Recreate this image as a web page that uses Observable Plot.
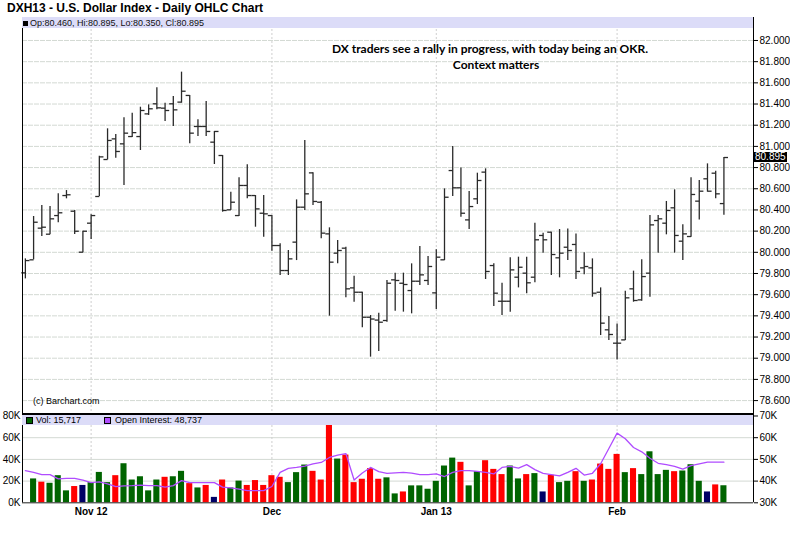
<!DOCTYPE html>
<html><head><meta charset="utf-8">
<script src="https://cdn.jsdelivr.net/npm/d3@7"></script>
<script src="https://cdn.jsdelivr.net/npm/@observablehq/plot@0.6"></script>
<style>
body{margin:0;background:#fff;font-family:"Liberation Sans",Arial,sans-serif;}
#wrap{position:relative;width:790px;height:537px;overflow:hidden;background:#fff;}
.abs{position:absolute;white-space:nowrap;}
#wrap svg{position:absolute;left:0;}
</style></head><body><div id="wrap"></div>
<script>
// ---- data ----
const titleText = "DXH13 - U.S. Dollar Index - Daily OHLC Chart";
const noteLine1 = "DX traders see a rally in progress, with today being an OKR.";
const noteLine2 = "Context matters";
const creditText = "(c) Barchart.com";

const opens = [79.806,79.929,80.228,80.171,80.347,80.536,80.388,80.001,80.275,80.527,80.876,81.071,81.024,81.093,81.093,81.307,81.402,81.361,81.402,81.418,81.481,81.188,81.188,81.040,80.914,80.401,80.347,80.631,80.536,80.369,80.347,80.064,79.828,80.096,80.426,80.750,80.473,80.174,79.992,80.039,79.664,79.623,79.387,79.360,79.356,79.740,79.708,79.639,79.727,79.734,79.617,79.929,80.772,80.609,80.306,80.505,80.757,79.875,79.538,79.538,79.765,79.803,79.765,80.159,80.190,79.948,80.048,80.074,79.853,79.853,79.623,79.268,79.142,79.173,79.655,79.551,79.803,80.300,80.275,80.420,80.105,80.149,80.483,80.694,80.747,80.460];
const highs = [79.938,80.338,80.442,80.432,80.552,80.583,80.395,80.199,80.354,80.908,81.166,81.112,81.270,81.314,81.370,81.392,81.553,81.408,81.471,81.701,81.481,81.251,81.424,81.141,80.914,80.568,80.703,80.826,80.536,80.536,80.347,80.080,80.017,80.495,81.056,80.750,80.480,80.231,80.111,80.048,79.774,79.623,79.403,79.425,79.734,79.803,79.803,79.891,80.055,79.960,80.023,80.599,80.999,80.797,80.574,80.747,80.788,79.891,79.708,79.948,79.954,79.954,80.275,80.181,80.190,80.215,80.221,80.174,79.995,79.938,79.664,79.394,79.324,79.633,79.822,79.929,80.347,80.347,80.480,80.590,80.259,80.703,80.678,80.835,80.766,80.895];
const lows = [79.749,79.929,80.149,80.165,80.278,80.505,80.168,79.995,80.121,80.527,80.873,80.889,80.631,81.084,80.961,81.292,81.345,81.235,81.188,81.408,81.024,81.093,81.093,80.829,80.379,80.395,80.338,80.505,80.237,80.143,80.011,79.781,79.781,79.922,80.395,80.442,80.127,79.397,79.891,79.570,79.529,79.287,79.010,79.063,79.340,79.444,79.435,79.419,79.686,79.686,79.460,79.922,80.527,80.332,80.215,80.451,79.743,79.488,79.403,79.435,79.664,79.608,79.712,79.992,79.781,79.759,79.922,79.743,79.787,79.576,79.214,79.167,78.984,79.167,79.529,79.538,79.576,79.992,80.165,79.992,79.922,80.143,80.306,80.568,80.505,80.350];
const closes = [79.922,80.284,80.237,80.316,80.373,80.543,80.199,80.199,80.347,80.901,81.056,80.952,81.125,81.130,81.339,81.355,81.364,81.339,81.345,81.521,81.125,81.188,81.141,81.141,80.395,80.473,80.631,80.536,80.410,80.363,80.064,79.828,79.938,80.426,80.552,80.480,80.181,79.907,80.017,79.655,79.623,79.387,79.370,79.340,79.708,79.734,79.696,79.727,79.787,79.866,79.954,80.520,80.609,80.369,80.432,80.678,79.819,79.614,79.538,79.834,79.859,79.712,80.118,80.118,79.979,79.992,80.017,79.819,79.866,79.614,79.331,79.224,79.142,79.570,79.545,79.771,80.259,80.316,80.395,80.159,80.174,80.546,80.577,80.577,80.552,80.895];
// volume in thousands (first bar has no volume bar)
const volumes = [null,22,19,18,25,11,15,16,18.6,28,18.6,25,36,21,24,11,21,23.5,24,29,17.7,13.7,16,5,21,13.7,20,16,20.5,16,25,23.5,18.6,27.8,34.8,29,21,71.5,40.3,44,18.6,21.7,31.5,21.7,23,8.2,10,15.6,15.6,12.5,19.8,33.9,41.2,37.3,15.6,28.7,38.8,30.8,26,33.9,22,26,26.9,10,25.3,18.6,19.8,28.7,19.8,21,35.7,30.8,44.6,27.8,31.5,26,47,26,29.9,28.7,29.3,35.1,19.8,10,16.5,15.717];
const volDirection = [null,"up","down","up","up","up","down","unch","up","up","up","down","up","up","up","up","up","down","up","up","down","up","down","unch","down","up","up","down","down","down","down","down","up","up","up","down","down","down","up","down","down","down","down","down","up","up","down","up","up","up","up","up","up","down","up","up","down","down","down","up","up","down","up","unch","down","up","up","down","up","down","down","down","down","up","down","up","up","up","up","down","up","up","up","unch","down","up"];
// open interest in thousands
const openInterest = [44.8,44.0,43.0,43.0,41.0,41.3,41.3,40.5,39.3,39.6,38.7,37.5,37.8,37.9,38.1,37.9,37.9,37.2,37.9,40.2,39.3,39.3,39.3,39.3,37.2,36.9,36.3,35.6,35.6,35.6,37.5,44.0,45.9,46.3,46.9,47.9,48.6,50.9,52.0,52.7,40.5,43.7,46.3,44.4,43.6,43.8,44.0,43.7,43.0,43.0,43.3,42.1,44.0,44.8,44.8,44.5,44.0,43.3,46.3,46.8,46.0,47.6,45.3,43.6,43.0,42.4,44.0,45.9,42.8,43.6,48.0,55.0,62.1,59.5,55.5,53.5,50.5,48.2,47.6,46.8,45.5,47.1,47.9,48.7,48.7,48.737];
const monthTicks = [8, 30, 50, 72];
const monthLabels = ["Nov 12", "Dec", "Jan 13", "Feb"];
const priceTicks = [78.6,78.8,79.0,79.2,79.4,79.6,79.8,80.0,80.2,80.4,80.6,80.8,81.0,81.2,81.4,81.6,81.8,82.0];
const volTicks = [0,20,40,60,80];
const oiTicks = [30,40,50,60,70];

// ---- build ----
const wrap = document.getElementById("wrap");
const font = '"Liberation Sans", Arial, sans-serif';
const xDomain = [-0.35, 88.6];
const W = 790, ML = 22, MR = 37;
const bars = opens.map((o, i) => ({i, o, h: highs[i], l: lows[i], c: closes[i]}));
const volData = volumes.map((v, i) => ({i, v, dir: volDirection[i]})).filter(d => d.v != null);
const oiData = openInterest.map((v, i) => ({i, v}));
const dirColor = {up: "#006400", down: "#ff0000", unch: "#000066"};
const gridColor = "#d3d9d3";
const f3 = d3.format(".3f");

function addDiv(style, text) {
  const d = document.createElement("div");
  d.className = "abs";
  Object.assign(d.style, style);
  if (text != null) d.textContent = text;
  wrap.appendChild(d);
  return d;
}

// title
addDiv({left: "7px", top: "2px", font: "bold 12px " + font, lineHeight: "12px", color: "#000"}, titleText);

// main price panel
const MAIN_TOP = 17, MAIN_H = 396;
const main = Plot.plot({
  width: W, height: MAIN_H,
  marginLeft: ML, marginRight: MR, marginTop: 0, marginBottom: 0,
  x: {domain: xDomain, axis: null},
  y: {domain: [78.478, 82.217], axis: null},
  style: {background: "transparent", overflow: "visible", fontFamily: font, fontSize: "10px", color: "#000"},
  marks: [
    Plot.ruleY(priceTicks, {stroke: gridColor, strokeDasharray: "5,1"}),
    Plot.ruleX(monthTicks, {stroke: "#cfcfcf", strokeDasharray: "2,2"}),
    Plot.ruleX(bars, {x: "i", y1: "l", y2: "h", stroke: "#2a2a2a", strokeWidth: 1.3}),
    Plot.link(bars, {x1: d => d.i - 0.5, x2: "i", y1: "o", y2: "o", stroke: "#2a2a2a", strokeWidth: 1.3}),
    Plot.link(bars, {x1: "i", x2: d => d.i + 0.5, y1: "c", y2: "c", stroke: "#2a2a2a", strokeWidth: 1.3}),
    Plot.axisY({anchor: "right", label: null, ticks: priceTicks, tickFormat: f3, tickSize: 4, tickPadding: 2, fontSize: 10}),
    Plot.ruleX([xDomain[0], xDomain[1]], {stroke: "#000"})
  ]
});
main.style.top = MAIN_TOP + "px";
wrap.appendChild(main);

// header band of the price panel
const last = bars[bars.length - 1];
addDiv({left: ML + "px", top: MAIN_TOP + "px", width: (W - ML - MR) + "px", height: "11px", background: "#dcdcf8"});
addDiv({left: "23px", top: (MAIN_TOP + 4) + "px", width: "5px", height: "5px", background: "#000"});
addDiv({left: "30px", top: (MAIN_TOP + 1) + "px", font: "9px " + font, lineHeight: "10px", color: "#111"},
  `Op:${f3(last.o)}, Hi:${f3(last.h)}, Lo:${f3(last.l)}, Cl:${f3(last.c)}`);

// last price marker on the right axis
const yLast = main.scale("y").apply(last.c) + MAIN_TOP;
addDiv({left: (W - MR + 1) + "px", top: (yLast - 5) + "px", width: "32px", height: "10px", background: "#000",
  color: "#fff", font: "10px " + font, lineHeight: "10px", paddingLeft: "1px"}, f3(last.c));

// annotation
addDiv({left: "490px", top: "48px", transform: "translate(-50%,-50%)", font: "bold 12px Lato, sans-serif", color: "#000"}, noteLine1);
addDiv({left: "496px", top: "64px", transform: "translate(-50%,-50%)", font: "bold 12px Lato, sans-serif", color: "#000"}, noteLine2);
addDiv({left: "33px", top: "396px", font: "9px " + font, lineHeight: "10px", color: "#000"}, creditText);

// volume panel
const VOL_TOP = 413, VOL_H = 124, VOL_PLOT_H = 89.3;
const volPlot = Plot.plot({
  width: W, height: VOL_H,
  marginLeft: ML, marginRight: MR, marginTop: 0, marginBottom: VOL_H - VOL_PLOT_H,
  x: {domain: xDomain, axis: null},
  y: {domain: [0, 82.3], axis: null},
  style: {background: "transparent", overflow: "visible", fontFamily: font, fontSize: "10px", color: "#000"},
  marks: [
    Plot.ruleY(volTicks, {stroke: gridColor}),
    Plot.ruleX(monthTicks, {stroke: "#cfcfcf", strokeDasharray: "2,2"}),
    Plot.rect(volData, {x1: d => d.i - 0.37, x2: d => d.i + 0.37, y1: 0, y2: "v", fill: d => dirColor[d.dir]}),
    Plot.axisY({anchor: "left", label: null, ticks: volTicks, tickFormat: d => d + "K", tickSize: 0, tickPadding: 2, fontSize: 10}),
    Plot.axisX({anchor: "bottom", label: null, ticks: monthTicks, tickFormat: d => monthLabels[monthTicks.indexOf(d)], tickSize: 0, tickPadding: 5, fontWeight: "bold", fontSize: 10}),
    Plot.ruleY([0], {stroke: "#333"}),
    Plot.ruleX([xDomain[0], xDomain[1]], {stroke: "#000"})
  ]
});
volPlot.style.top = VOL_TOP + "px";
wrap.appendChild(volPlot);

// open interest overlay (right axis)
const oiPlot = Plot.plot({
  width: W, height: VOL_H,
  marginLeft: ML, marginRight: MR, marginTop: 0, marginBottom: VOL_H - VOL_PLOT_H,
  x: {domain: xDomain, axis: null},
  y: {domain: [30, 30 + 82.3 / 2], axis: null},
  style: {background: "transparent", overflow: "visible", fontFamily: font, fontSize: "10px", color: "#000"},
  marks: [
    Plot.line(oiData, {x: "i", y: "v", stroke: "#b04cff", strokeWidth: 1.3}),
    Plot.axisY({anchor: "right", label: null, ticks: oiTicks, tickFormat: d => d + "K", tickSize: 4, tickPadding: 2, fontSize: 10})
  ]
});
oiPlot.style.top = VOL_TOP + "px";
wrap.appendChild(oiPlot);

// panel separator and volume legend band
addDiv({left: ML + "px", top: "413px", width: (W - ML - MR + 1) + "px", height: "2px", background: "#000"});
addDiv({left: ML + "px", top: "415px", width: (W - ML - MR) + "px", height: "10px", background: "#dcdcf8"});
const fmtK = v => d3.format(",.0f")(v * 1000);
addDiv({left: "26px", top: "417px", width: "5px", height: "5px", background: dirColor.up, border: "1px solid #000"});
addDiv({left: "36px", top: "415px", font: "9px " + font, lineHeight: "10px", color: "#000"}, "Vol: " + fmtK(volumes[volumes.length - 1]));
addDiv({left: "104px", top: "417px", width: "5px", height: "5px", background: "#b04cff", border: "1px solid #000"});
addDiv({left: "115px", top: "415px", font: "9px " + font, lineHeight: "10px", color: "#000"}, "Open Interest: " + fmtK(openInterest[openInterest.length - 1]));
</script>
</body></html>
